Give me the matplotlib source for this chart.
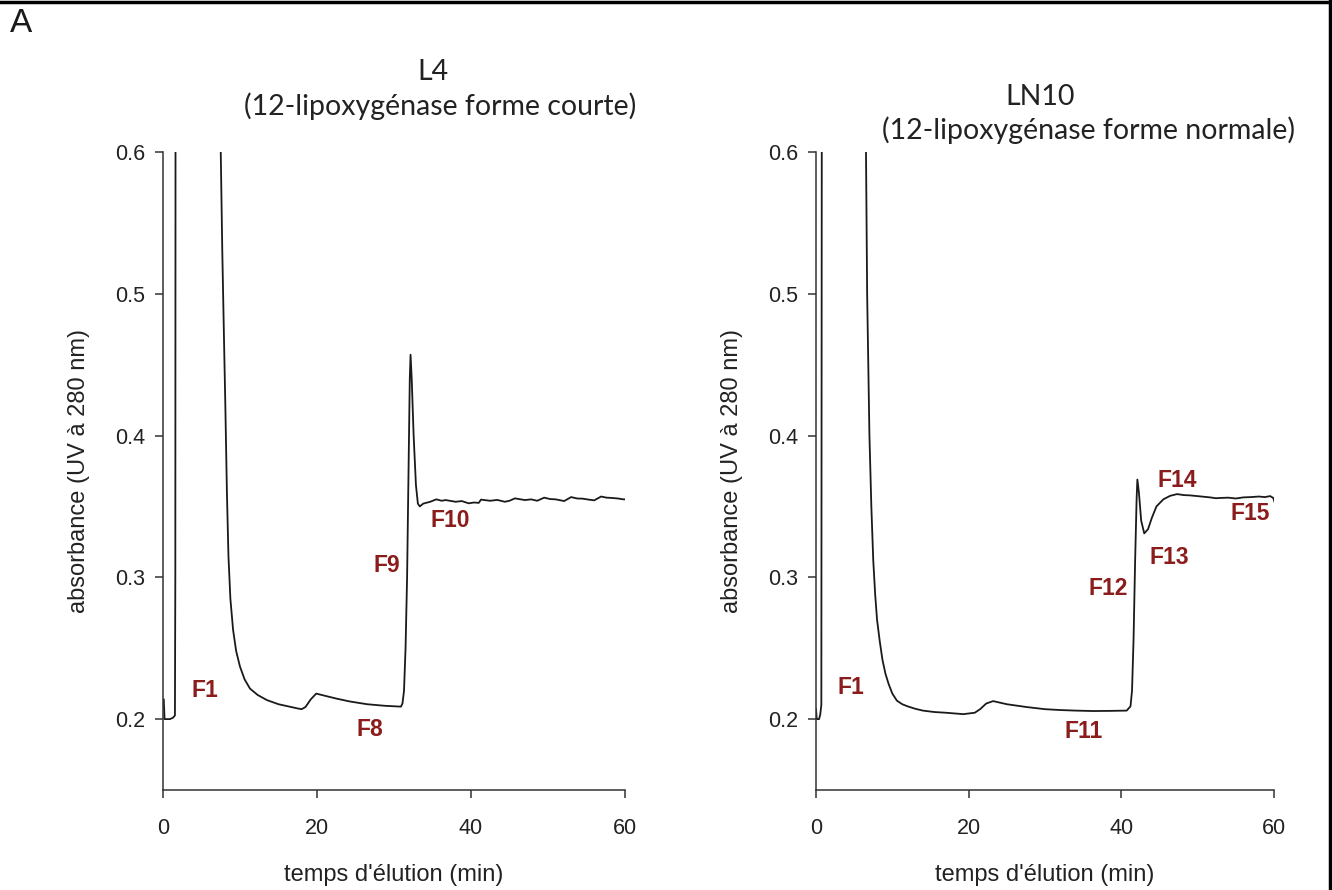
import matplotlib
matplotlib.use('Agg')
import matplotlib.pyplot as plt
from matplotlib.lines import Line2D

plt.rcParams['font.family'] = ['Liberation Sans', 'DejaVu Sans']

# L4 (forme courte) : temps (min) / absorbance
t_l4 = [0.0, 0.1, 0.2, 0.9, 1.3, 1.55, 1.6, 1.65, 7.3,
        7.5, 7.7, 7.9, 8.1, 8.3, 8.5, 8.75, 9.1, 9.5, 10.0, 10.6, 11.3, 12.3, 13.5, 15.0,
        16.5, 17.5, 18.0, 18.5, 19.2, 19.9, 21.0, 22.5, 24.2, 26.5, 28.8, 30.9, 31.1,
        31.3, 31.5, 31.7, 31.9, 32.05, 32.15, 32.3, 32.55, 32.85, 33.1, 33.35, 33.8,
        34.7, 35.5, 36.2, 36.7, 38.0, 38.8, 39.7, 40.4, 41.0, 41.3, 42.5, 43.4, 44.4,
        45.0, 45.7, 47.0, 47.8, 48.6, 49.5, 50.3, 51.0, 52.1, 53.0, 53.8, 54.5, 55.3,
        56.0, 56.9, 57.6, 58.3, 59.1, 59.8, 60.0]
a_l4 = [0.214, 0.214, 0.200, 0.200, 0.201, 0.2026, 0.30, 0.90, 0.90,
        0.600, 0.530, 0.474, 0.420, 0.360, 0.315, 0.285, 0.263, 0.248, 0.237, 0.228,
        0.2215, 0.2170, 0.2134, 0.2105, 0.2087, 0.2075, 0.2070, 0.2085, 0.2140, 0.2180,
        0.2165, 0.2145, 0.2125, 0.2105, 0.2094, 0.2088, 0.2110, 0.2200, 0.2500, 0.3000,
        0.3800, 0.4400, 0.4570, 0.4400, 0.4000, 0.3650, 0.3520, 0.3500, 0.3520, 0.3533,
        0.3550, 0.3540, 0.3545, 0.3533, 0.3538, 0.3522, 0.3528, 0.3525, 0.3548, 0.3540,
        0.3546, 0.3533, 0.3540, 0.3557, 0.3545, 0.3550, 0.3540, 0.3562, 0.3552, 0.3550,
        0.3538, 0.3566, 0.3556, 0.3555, 0.3548, 0.3543, 0.3570, 0.3562, 0.3560, 0.3556,
        0.3550, 0.3550]

# LN10 (forme normale)
t_ln10 = [0.0, 0.1, 0.4, 0.55, 0.7, 0.8, 6.4,
          6.55, 6.7, 6.85, 7.0, 7.25, 7.5, 7.75, 8.0, 8.35, 8.7, 9.1, 9.5, 10.0, 10.6,
          11.3, 12.0, 13.0, 14.0, 15.5, 17.0, 19.3, 20.8, 21.5, 22.3, 23.2, 25.0, 27.6,
          30.0, 32.0, 34.0, 36.3, 38.5, 40.7, 41.2, 41.4, 41.6, 41.8, 42.0, 42.1, 42.3,
          42.6, 43.0, 43.5, 44.0, 44.6, 45.5, 46.4, 47.3, 48.2, 49.0, 50.5, 51.6, 52.4,
          53.0, 54.0, 55.0, 56.0, 57.0, 58.0, 58.8, 59.5, 59.9, 60.2]
a_ln10 = [0.207, 0.200, 0.200, 0.203, 0.210, 0.90, 0.90,
          0.600, 0.500, 0.450, 0.400, 0.350, 0.312, 0.288, 0.270, 0.255, 0.242, 0.232,
          0.225, 0.218, 0.213, 0.2105, 0.2090, 0.2073, 0.2060, 0.2050, 0.2045, 0.2035,
          0.2045, 0.2070, 0.2110, 0.2127, 0.2105, 0.2085, 0.2070, 0.2064, 0.2060, 0.2057,
          0.2058, 0.2060, 0.2090, 0.2200, 0.2560, 0.3100, 0.3550, 0.3690, 0.3600, 0.3400,
          0.3310, 0.3340, 0.3420, 0.3500, 0.3550, 0.3575, 0.3587, 0.3580, 0.3578, 0.3570,
          0.3564, 0.3558, 0.3560, 0.3562, 0.3556, 0.3564, 0.3566, 0.3570, 0.3566, 0.3573,
          0.3560, 0.3510]

# étiquettes des fractions (texte, temps, absorbance)
frac_l4 = [('F1', 5.45, 0.2205), ('F8', 26.9, 0.193), ('F9', 29.1, 0.308), ('F10', 37.3, 0.340)]
frac_ln10 = [('F1', 4.6, 0.222), ('F11', 35.0, 0.191), ('F12', 38.3, 0.2924),
             ('F13', 46.3, 0.314), ('F14', 47.3, 0.368), ('F15', 56.9, 0.345)]

x_ticks = [0, 20, 40, 60]
y_ticks = [0.2, 0.3, 0.4, 0.5, 0.6]
rouge = '#8b1c1c'

W, H = 1332, 890
fig = plt.figure(figsize=(W / 100, H / 100), dpi=100)


def panneau(left_px, right_px, t, a, fracs):
    ax = fig.add_axes([left_px / W, 100 / H, (right_px - left_px) / W, 638 / H])
    ax.plot(t, a, color='#1a1a1a', lw=1.3)
    ax.set_xlim(0, 60)
    ax.set_ylim(0.15, 0.6)
    ax.set_xticks(x_ticks)
    ax.set_yticks(y_ticks)
    ax.set_yticklabels(['0.2', '0.3', '0.4', '0.5', '0.6'])
    ax.spines['top'].set_visible(False)
    ax.spines['right'].set_visible(False)
    for s in ('left', 'bottom'):
        ax.spines[s].set_linewidth(1.1)
        ax.spines[s].set_color('#333333')
    ax.tick_params(direction='out', length=6, width=1.1, color='#333333',
                   labelsize=15.5, labelcolor='#222222', pad=7)
    ax.tick_params(axis='x', pad=14)
    ax.set_ylabel('absorbance (UV à 280 nm)', fontsize=17, labelpad=18, color='#222222')
    ax.set_xlabel("temps d'élution (min)", fontsize=17, labelpad=18, color='#222222')
    for txt, x, y in fracs:
        ax.text(x, y, txt, color=rouge, fontsize=16.5, fontweight='bold',
                ha='center', va='center')
    ax.patch.set_visible(False)
    return ax


panneau(163, 625, t_l4, a_l4, frac_l4)
panneau(816, 1274, t_ln10, a_ln10, frac_ln10)

titre = dict(fontsize=20.5, family=['Lato', 'DejaVu Sans'], ha='center', va='center', color='#222222')
fig.text(433 / W, 1 - 72 / H, 'L4', **titre)
fig.text(440 / W, 1 - 106 / H, '(12-lipoxygénase forme courte)', **titre)
fig.text(1040 / W, 1 - 97 / H, 'LN10', **titre)
fig.text(1088 / W, 1 - 130 / H, '(12-lipoxygénase forme normale)', **titre)

fig.text(10 / W, 1 - 24 / H, 'A', fontsize=24, ha='left', va='center', color='#1a1a1a')

# cadre
fig.add_artist(Line2D([0, 1], [1 - 2 / H, 1 - 2 / H], transform=fig.transFigure, color='black', lw=2.5))
fig.add_artist(Line2D([1 - 2 / W, 1 - 2 / W], [0, 1], transform=fig.transFigure, color='black', lw=2.5))

fig.savefig('out.png', dpi=100)
plt.close(fig)
